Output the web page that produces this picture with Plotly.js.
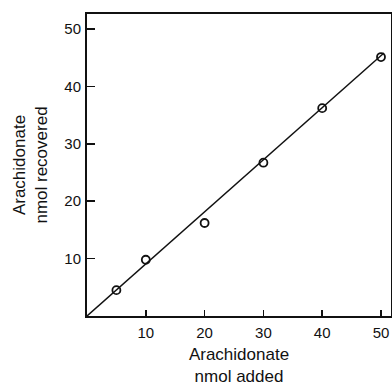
<!DOCTYPE html>
<html>
<head>
<meta charset="utf-8">
<script src="https://cdn.plot.ly/plotly-3.0.1.min.js"></script>
<style>html,body{margin:0;padding:0;background:#fff;}#chart{width:392px;height:386px;}</style>
</head>
<body>
<div id="chart"></div>
<script>
// Measured points
const addedNmol = [5, 10, 20, 30, 40, 50];
const recoveredNmol = [4.5, 9.8, 16.2, 26.7, 36.2, 45.1];
// Fitted line end points
const fitX = [0, 50.5];
const fitY = [0, 45.8];
const tickVals = [10, 20, 30, 40, 50];
const tickText = ['10', '20', '30', '40', '50'];

const font = {family: 'Liberation Sans, Arial, sans-serif', color: '#111', size: 15};

const traces = [
  {x: fitX, y: fitY, mode: 'lines', line: {color: '#111', width: 1.5}, hoverinfo: 'skip', showlegend: false},
  {x: addedNmol, y: recoveredNmol, mode: 'markers',
   marker: {symbol: 'circle-open', size: 8, color: '#111', line: {width: 1.8, color: '#111'}}, showlegend: false}
];

const layout = {
  width: 392, height: 386,
  margin: {l: 87, r: 1, t: 14, b: 70},
  paper_bgcolor: '#fff', plot_bgcolor: '#fff',
  font: font,
  showlegend: false,
  xaxis: {
    range: [0, 51.7], tickvals: tickVals, ticktext: tickText,
    ticks: 'inside', ticklen: 6, tickwidth: 1.5, tickcolor: '#111',
    showline: true, linecolor: '#111', linewidth: 2, mirror: true,
    showgrid: false, zeroline: false,
    tickfont: {size: 15}, ticklabelstandoff: 2,
    title: {text: 'Arachidonate<br>nmol added', font: {size: 17}, standoff: 8}
  },
  yaxis: {
    range: [0, 52.6], tickvals: tickVals, ticktext: tickText,
    ticks: 'inside', ticklen: 8, tickwidth: 1.5, tickcolor: '#111',
    showline: true, linecolor: '#111', linewidth: 2, mirror: true,
    showgrid: false, zeroline: false,
    tickfont: {size: 15}, ticklabelstandoff: 1,
    title: {text: 'Arachidonate<br>nmol recovered', font: {size: 17}, standoff: 12}
  }
};

Plotly.newPlot('chart', traces, layout, {displayModeBar: false, staticPlot: true});
</script>
</body>
</html>
